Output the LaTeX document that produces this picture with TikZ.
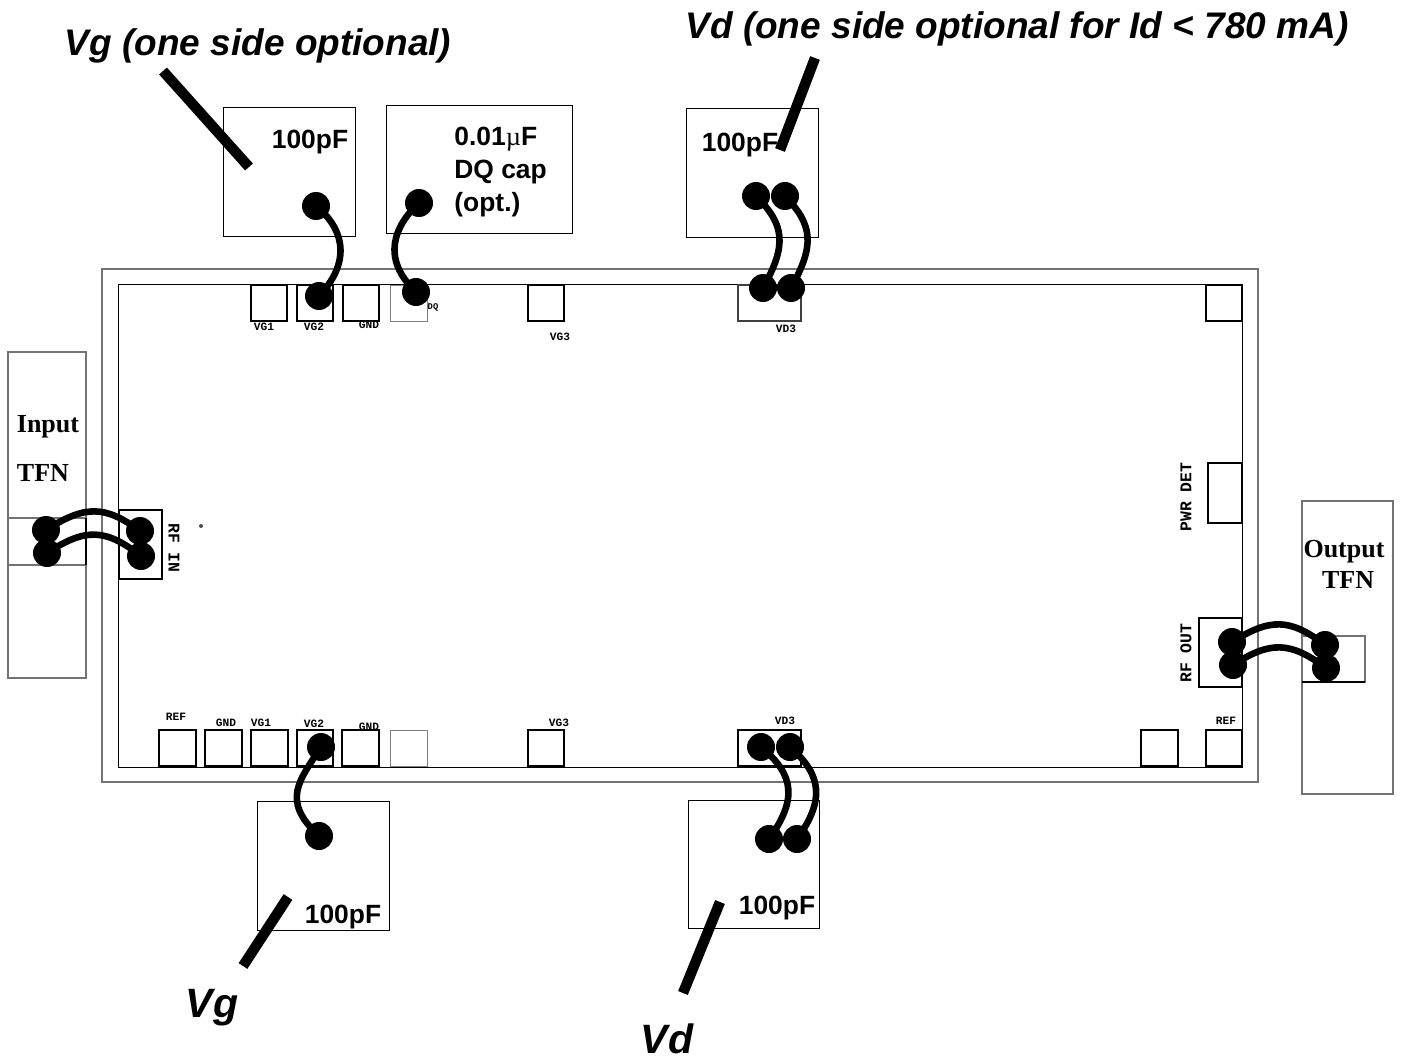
\documentclass[tikz,border=0pt]{standalone}
\usepackage{fontspec}
\setmainfont{Liberation Sans}
\newfontfamily\serifbold{Liberation Serif}
\newfontfamily\monobold{Liberation Mono}
\begin{document}
\begin{tikzpicture}[x=0.5pt,y=-0.5pt,
  box/.style={draw=black,line width=0.5pt},
  grayline/.style={draw=black!55,line width=0.6pt},
  pad/.style={draw=black,line width=0.9pt},
  padgray/.style={draw=black!50,line width=0.5pt},
  bond/.style={circle,fill=black,draw=none,minimum size=14pt,inner sep=0pt},
  wire/.style={draw=black,line width=3.3pt},
  lead/.style={draw=black,line width=5.2pt},
  capt/.style={font=\bfseries\fontsize{13.2}{16.5}\selectfont,inner sep=0pt,anchor=base},
  headline/.style={font=\bfseries\itshape\fontsize{18.5}{22}\selectfont,inner sep=0pt,anchor=base},
  bigline/.style={font=\bfseries\itshape\fontsize{20.5}{24}\selectfont,inner sep=0pt,anchor=base},
  tfn/.style={font=\serifbold\bfseries\fontsize{13}{15}\selectfont,inner sep=0pt,anchor=base},
  tiny/.style={font=\monobold\bfseries\fontsize{5.6}{6}\selectfont,inner sep=0pt},
  small/.style={font=\monobold\bfseries\fontsize{8.2}{9}\selectfont,inner sep=0pt,rotate=-90},
  smallup/.style={font=\monobold\bfseries\fontsize{8.2}{9}\selectfont,inner sep=0pt,rotate=90}]
\useasboundingbox (0,0) rectangle (1401,1059);
% chip
\draw[grayline] (102,269) rectangle (1258,782);
\draw[box] (118,284) rectangle (1242,767);
% capacitors
\draw[box] (223,108) rectangle (355,236);
\draw[box] (386,106) rectangle (572,234);
\draw[box] (686,109) rectangle (818,237);
\draw[box] (257,801) rectangle (389,930);
\draw[box] (688,800) rectangle (819,928);
% TFN
\draw[grayline] (8,352) rectangle (86,678);
\draw[grayline] (8,518) -- (86,518);
\draw[grayline] (8,565) -- (86,565);
\draw[box,line width=0.7pt] (86,518) -- (86,565);
\draw[grayline] (1302,501) rectangle (1393,794);
\draw[grayline] (1302,636) rectangle (1365,682);
\draw[box,line width=0.6pt] (1302,682) -- (1365,682);
% top pads
\draw[pad] (251,285) rectangle (287,321);
\draw[pad] (297,285) rectangle (333,321);
\draw[pad] (343,285) rectangle (379,321);
\draw[padgray] (390,285) rectangle (427,321);
\draw[pad] (528,285) rectangle (564,321);
\draw[pad,draw=black!75] (738,285) rectangle (801,321);
\draw[pad] (1206,285) rectangle (1242,321);
% bottom pads
\draw[pad] (159,730) rectangle (196,766);
\draw[pad] (205,730) rectangle (242,766);
\draw[pad] (251,730) rectangle (288,766);
\draw[pad] (297,730) rectangle (333,766);
\draw[pad] (342,730) rectangle (379,766);
\draw[padgray] (390,730) rectangle (427,766);
\draw[pad] (528,730) rectangle (564,766);
\draw[pad] (738,730) rectangle (801,766);
\draw[pad] (1141,730) rectangle (1178,766);
\draw[pad] (1206,730) rectangle (1242,766);
% side pads
\draw[pad] (119,510) rectangle (162,579);
\draw[pad] (1199,618) rectangle (1242,687);
\draw[pad] (1208,463) rectangle (1242,523);
\fill[black!70] (201,526) circle (1pt);
% small labels
\node[tiny] (lvg1) at (264,327) {VG1};
\node[tiny] (lvg2) at (314,327) {VG2};
\node[tiny] (lgn1) at (369,325) {GND};
\node[tiny,font=\monobold\bfseries\fontsize{4.4}{5}\selectfont] (ldq) at (433,307) {DQ};
\node[tiny] (lvg3) at (560,337) {VG3};
\node[tiny] (lvd3) at (786,329) {VD3};
\node[tiny] (lref1) at (176,717) {REF};
\node[tiny] (lgnd2) at (226,723) {GND};
\node[tiny] (lvg1b) at (261,723) {VG1};
\node[tiny] (lvg2b) at (314,724) {VG2};
\node[tiny] (lgnd3) at (369,727) {GND};
\node[tiny] (lvg3b) at (559,723) {VG3};
\node[tiny] (lvd3b) at (785,721) {VD3};
\node[tiny] (lref2) at (1226,721) {REF};
\node[small] (rfin) at (174,548) {RF IN};
\node[smallup] (rfout) at (1186,653) {RF OUT};
\node[smallup] (pwr) at (1186,497) {PWR DET};
% bond points
\node[bond] (a1) at (316,206) {};
\node[bond] (a2) at (319,296) {};
\node[bond] (b1) at (419,203) {};
\node[bond] (b2) at (416,292) {};
\node[bond] (c1) at (756,196) {};
\node[bond] (c2) at (763,288) {};
\node[bond] (d1) at (785,196) {};
\node[bond] (d2) at (791,288) {};
\node[bond] (e1) at (46,530) {};
\node[bond] (e2) at (140,531) {};
\node[bond] (f1) at (47,553) {};
\node[bond] (f2) at (141,556) {};
\node[bond] (g1) at (1232,642) {};
\node[bond] (g2) at (1325,645) {};
\node[bond] (h1) at (1233,665) {};
\node[bond] (h2) at (1326,668) {};
\node[bond] (i1) at (321,747) {};
\node[bond] (i2) at (319,836) {};
\node[bond] (j1) at (761,747) {};
\node[bond] (j2) at (769,839) {};
\node[bond] (k1) at (790,747) {};
\node[bond] (k2) at (797,839) {};
% wires
\draw[wire] (a1.center) .. controls (340,225) and (355,258) .. (a2.center);
\draw[wire] (b1.center) .. controls (395,225) and (380,258) .. (b2.center);
\draw[wire] (c1.center) .. controls (785,225) and (787,245) .. (c2.center);
\draw[wire] (d1.center) .. controls (813,225) and (815,245) .. (d2.center);
\draw[wire] (e1.center) .. controls (85,505) and (105,505) .. (e2.center);
\draw[wire] (f1.center) .. controls (85,528) and (105,528) .. (f2.center);
\draw[wire] (g1.center) .. controls (1270,618) and (1290,618) .. (g2.center);
\draw[wire] (h1.center) .. controls (1270,641) and (1290,641) .. (h2.center);
\draw[wire] (i1.center) .. controls (300,780) and (280,800) .. (i2.center);
\draw[wire] (j1.center) .. controls (795,775) and (797,800) .. (j2.center);
\draw[wire] (k1.center) .. controls (822,775) and (825,800) .. (k2.center);
% leads
\coordinate (la1) at (163,71); \coordinate (la2) at (249,167);
\coordinate (lb1) at (815,58); \coordinate (lb2) at (780,150);
\coordinate (lc1) at (288,897); \coordinate (lc2) at (243,966);
\coordinate (ld1) at (720,902); \coordinate (ld2) at (683,993);
% captions
\node[capt] (t1) at (310,149) {100pF};
\node[capt,align=left,anchor=north west] (t2) at (454,127) {0.01{\serifbold\mdseries µ}F\\DQ cap\\(opt.)};
\node[capt] (t3) at (740,152) {100pF};
\node[capt] (t4) at (343,923) {100pF};
\node[capt] (t5) at (777,914) {100pF};
\draw[lead] (la1) -- (la2);
\draw[lead] (lb1) -- (lb2);
\draw[lead] (lc1) -- (lc2);
\draw[lead] (ld1) -- (ld2);
\node[tfn] (in1) at (48,432) {Input};
\node[tfn] (in2) at (43,481) {TFN};
\node[tfn] (out1) at (1344,557) {Output};
\node[tfn] (out2) at (1348,588) {TFN};
\node[headline] (h1t) at (258,56) {Vg (one side optional)};
\node[headline] (h2t) at (1017,39) {Vd (one side optional for Id < 780 mA)};
\node[bigline] (h3t) at (212,1017) {Vg};
\node[bigline] (h4t) at (667,1053) {Vd};
\end{tikzpicture}
\end{document}
